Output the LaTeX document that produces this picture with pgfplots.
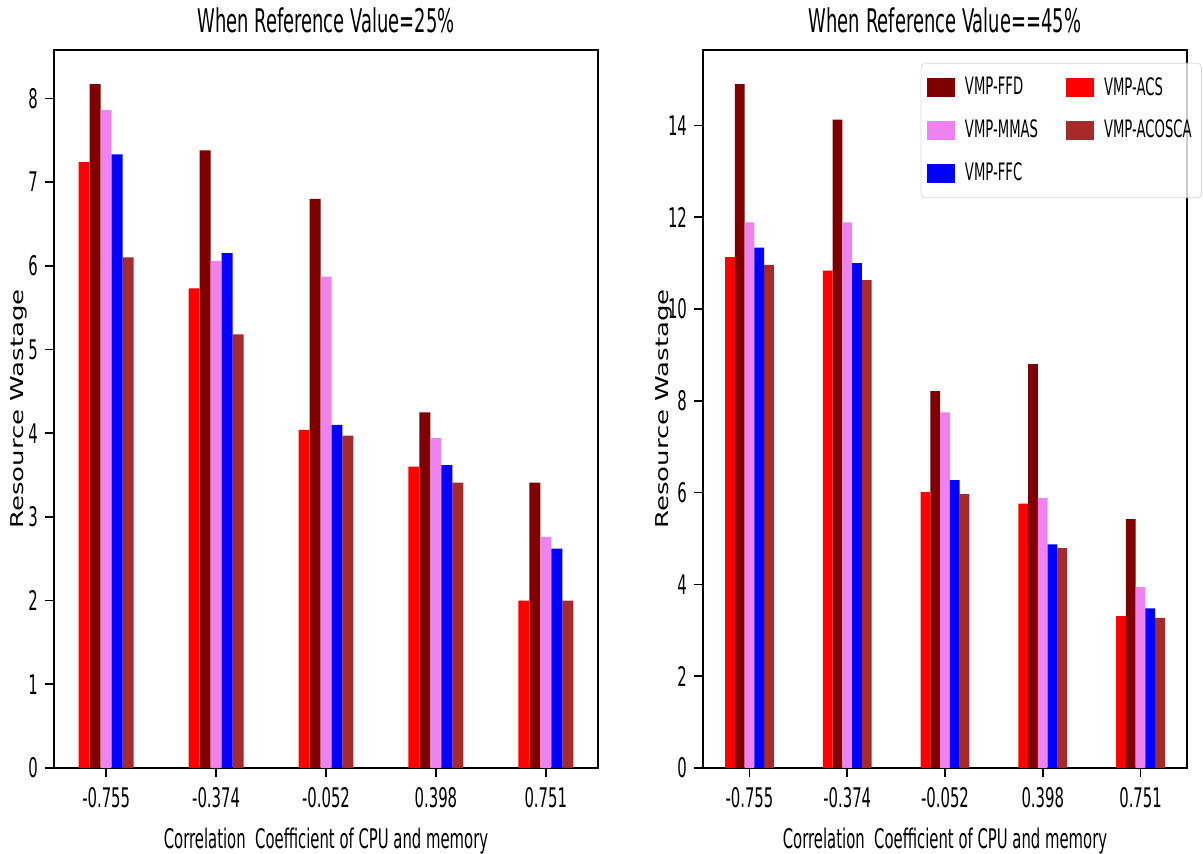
\documentclass[border=0pt]{standalone}
\usepackage{pgfplots}
\usepackage{pgfplotstable}
\pgfplotsset{compat=1.18}
\usepackage{fontspec}
\usepackage{graphicx}
\setmainfont{DejaVu Sans}[FakeStretch=0.55]
\newfontfamily\ylabfont{DejaVu Sans}

\definecolor{cACS}{HTML}{FF0000}
\definecolor{cFFD}{HTML}{800000}
\definecolor{cMMAS}{HTML}{EE82EE}
\definecolor{cFFC}{HTML}{0000FF}
\definecolor{cACOSCA}{HTML}{A52A2A}

% Reference value = 25%
\pgfplotstableread{
x ACS  FFD  MMAS FFC  ACOSCA
0 7.24 8.17 7.86 7.33 6.10
1 5.73 7.38 6.06 6.15 5.18
2 4.04 6.80 5.87 4.10 3.97
3 3.60 4.25 3.94 3.62 3.41
4 2.00 3.41 2.76 2.62 2.00
}\dataA

% Reference value = 45%
\pgfplotstableread{
x ACS   FFD   MMAS  FFC   ACOSCA
0 11.13 14.90 11.89 11.34 10.96
1 10.84 14.13 11.89 11.00 10.63
2 6.01  8.21  7.75  6.27  5.97
3 5.76  8.80  5.88  4.87  4.79
4 3.31  5.42  3.94  3.48  3.27
}\dataB

\pgfplotsset{
  wastage/.style={
    scale only axis,
    height=359pt,
    xmin=-0.475, xmax=4.475, ymin=0,
    xtick={0,1,2,3,4},
    xticklabels={-0.755,-0.374,-0.052,0.398,0.751},
    tick align=outside, tick pos=left,
    major tick length=4.5pt,
    every tick/.style={black, line width=0.8pt},
    axis line style={black, line width=0.8pt},
    /pgf/number format/assume math mode=true,
    ticklabel style={font=\fontsize{13.5}{16}\selectfont},
    xticklabel style={yshift=-1.5pt},
    xlabel={Correlation\ \ Coefficient of CPU and memory},
    xlabel style={font=\fontsize{13.5}{16}\selectfont, at={(axis description cs:0.5,-0.102)}, anchor=center},
    ylabel={\scalebox{1}[0.68]{\ylabfont\fontsize{13}{15}\selectfont Resource Wastage}},
    title style={font=\fontsize{16.3}{19}\selectfont, at={(axis description cs:0.5,1)}, anchor=base, yshift=2.5pt},
    legend image code/.code={\draw[##1,draw=none,fill opacity=1,sharp corners] (0pt,-4.6pt) rectangle (14pt,4.9pt);},
  },
  bars/.style={ybar, bar width=0.1, draw=none, fill=#1},
}

\begin{document}
\begin{tikzpicture}
\useasboundingbox (0,0) rectangle (601.5pt,427pt);

\begin{axis}[wastage,
  at={(27pt,43pt)}, anchor=south west,
  width=272pt,
  ymax=8.5785, ytick={0,1,...,8},
  ylabel style={at={(axis description cs:-0.064,0.5)}, anchor=center},
  title={When Reference Value=25\%},
]
\addplot[bars=cFFD, bar shift=-0.1]   table[x=x, y=FFD]    {\dataA};
\addplot[bars=cACS, bar shift=-0.2]   table[x=x, y=ACS]    {\dataA};
\addplot[bars=cMMAS, bar shift=0]     table[x=x, y=MMAS]   {\dataA};
\addplot[bars=cACOSCA, bar shift=0.2] table[x=x, y=ACOSCA] {\dataA};
\addplot[bars=cFFC, bar shift=0.1]    table[x=x, y=FFC]    {\dataA};
\end{axis}

\begin{axis}[wastage,
  at={(351.5pt,43pt)}, anchor=south west,
  width=242pt,
  ymax=15.645, ytick={0,2,...,14},
  ylabel style={at={(axis description cs:-0.081,0.5)}, anchor=center},
  title={When Reference Value==45\%},
  legend columns=2,
  legend cell align=left,
  legend style={
    at={(axis description cs:1.031,0.982)}, anchor=north east,
    draw=black!15, rounded corners=2pt,
    fill=white, fill opacity=0.8, text opacity=1,
    font=\fontsize{12}{14}\selectfont,
    row sep=7pt, inner xsep=3pt, inner ysep=5pt,
    /tikz/every odd column/.append style={column sep=3pt},
    /tikz/every even column/.append style={column sep=12pt},
  },
]
\addplot[bars=cFFD, bar shift=-0.1]   table[x=x, y=FFD]    {\dataB};
\addlegendentry{VMP-FFD}
\addplot[bars=cACS, bar shift=-0.2]   table[x=x, y=ACS]    {\dataB};
\addlegendentry{VMP-ACS}
\addplot[bars=cMMAS, bar shift=0]     table[x=x, y=MMAS]   {\dataB};
\addlegendentry{VMP-MMAS}
\addplot[bars=cACOSCA, bar shift=0.2] table[x=x, y=ACOSCA] {\dataB};
\addlegendentry{VMP-ACOSCA}
\addplot[bars=cFFC, bar shift=0.1]    table[x=x, y=FFC]    {\dataB};
\addlegendentry{VMP-FFC}
\end{axis}
\end{tikzpicture}
\end{document}
